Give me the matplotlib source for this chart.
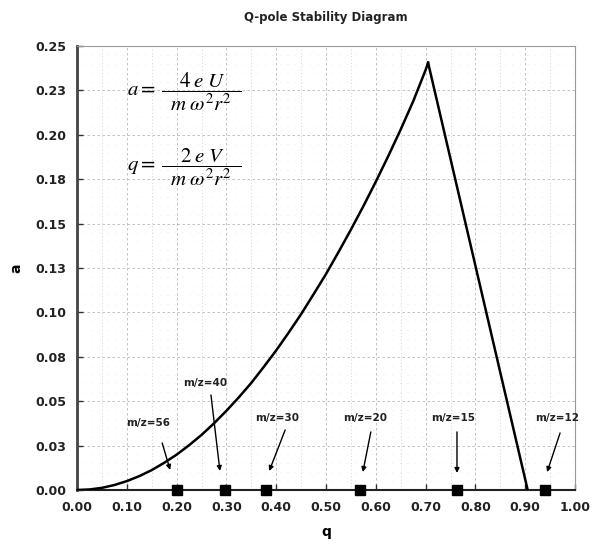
import matplotlib
matplotlib.use("Agg")
import matplotlib.pyplot as plt
import numpy as np

# Stability boundary
q_left = [0.000, 0.025, 0.050, 0.075, 0.100, 0.125, 0.150, 0.175, 0.200, 0.225, 0.250, 0.275,
          0.300, 0.325, 0.350, 0.375, 0.400, 0.425, 0.450, 0.475, 0.500, 0.525, 0.550, 0.575,
          0.600, 0.625, 0.650, 0.675, 0.700, 0.705]
a_left = [0.0000, 0.0003, 0.0012, 0.0028, 0.0050, 0.0078, 0.0112, 0.0153, 0.0199, 0.0252, 0.0310, 0.0375,
          0.0446, 0.0522, 0.0603, 0.0693, 0.0786, 0.0886, 0.0990, 0.1102, 0.1216, 0.1339, 0.1466, 0.1598,
          0.1736, 0.1880, 0.2030, 0.2188, 0.2365, 0.2406]
q_right = [0.705, 0.905]
a_right = [0.2406, 0.000]

# Ion markers
mz_labels = ["m/z=56", "m/z=40", "m/z=30", "m/z=20", "m/z=15", "m/z=12"]
mz_q = [0.20, 0.297, 0.379, 0.568, 0.763, 0.940]
mz_a = [0.0, 0.0, 0.0, 0.0, 0.0, 0.0]

x_ticks = [0.0, 0.1, 0.2, 0.3, 0.4, 0.5, 0.6, 0.7, 0.8, 0.9, 1.0]
x_ticklabels = ["0.00", "0.10", "0.20", "0.30", "0.40", "0.50", "0.60", "0.70", "0.80", "0.90", "1.00"]
y_ticks = [0.0, 0.025, 0.05, 0.075, 0.1, 0.125, 0.15, 0.175, 0.2, 0.225, 0.25]
y_ticklabels = ["0.00", "0.03", "0.05", "0.08", "0.10", "0.13", "0.15", "0.18", "0.20", "0.23", "0.25"]

# layout of annotations: (text pos, arrow start, arrow tip)
ann_text = [(0.143, 0.0377), (0.257, 0.0602), (0.402, 0.0405), (0.578, 0.0405), (0.755, 0.0405), (0.964, 0.0405)]
ann_start = [(0.171, 0.0265), (0.269, 0.0535), (0.418, 0.0338), (0.590, 0.0327), (0.763, 0.0327), (0.970, 0.0321)]
ann_tip = [(0.187, 0.0113), (0.287, 0.0107), (0.386, 0.0107), (0.574, 0.0101), (0.763, 0.0096), (0.944, 0.0101)]

plt.rcParams['font.family'] = ['DejaVu Sans']
plt.rcParams['mathtext.fontset'] = 'stix'

fig = plt.figure(figsize=(5.92, 5.54), dpi=100)
ax = fig.add_axes([77/592, 1-490/554, (575-77)/592, (490-46)/554])

ax.set_xlim(0, 1.0)
ax.set_ylim(0, 0.25)

ax.set_xticks(x_ticks)
ax.set_xticklabels(x_ticklabels, fontweight='bold', fontsize=9, color='#222222')
ax.set_yticks(y_ticks)
ax.set_yticklabels(y_ticklabels, fontweight='bold', fontsize=9, color='#222222')
ax.set_xticks(np.arange(0.05, 1.0, 0.1), minor=True)
ax.set_yticks(np.arange(0.0, 0.25, 0.005), minor=True)
ax.grid(True, which='major', color='#b8b8b8', linestyle=(0, (3, 3)), linewidth=0.6)
ax.grid(True, which='minor', axis='x', color='#c8c8c8', linestyle=(0, (1, 3)), linewidth=0.6)
ax.grid(True, which='minor', axis='y', color='#e4e4e4', linestyle=(0, (1, 8)), linewidth=0.6)
ax.tick_params(which='major', direction='in', length=4, width=1, color='#333333', pad=8)
ax.tick_params(which='minor', length=0)
ax.set_axisbelow(True)

for s in ['top', 'right']:
    ax.spines[s].set_color('#999999')
    ax.spines[s].set_linewidth(0.8)
ax.spines['left'].set_color('#444444')
ax.spines['left'].set_linewidth(2.0)
ax.spines['bottom'].set_color('#222222')
ax.spines['bottom'].set_linewidth(1.5)

ax.plot(q_left, a_left, color='black', lw=1.8, zorder=3)
ax.plot(q_right, a_right, color='black', lw=1.8, zorder=3)
ax.plot(mz_q, mz_a, linestyle='none', marker='s', color='black', markersize=6.5, zorder=4, clip_on=False)

for lab, tp, st, tip in zip(mz_labels, ann_text, ann_start, ann_tip):
    ax.text(tp[0], tp[1], lab, ha='center', va='center', fontsize=7.5, fontweight='bold', color='#222222')
    ax.annotate('', xy=tip, xytext=st,
                arrowprops=dict(arrowstyle='-|>', color='black', lw=1.0, mutation_scale=7, shrinkA=0, shrinkB=0))

ax.set_title('Q-pole Stability Diagram', fontsize=8.5, fontweight='bold', pad=18, color='#222222')
ax.set_xlabel('q', fontsize=10, fontweight='bold', labelpad=8)
ax.set_ylabel('a', fontsize=10, fontweight='bold', labelpad=8)

ax.text(0.100, 0.224, r'$a =\;\dfrac{\;\;4\;e\;U\;\;}{\;\;m\;\omega^2 r^2\;\;}$', fontsize=15, ha='left', va='center')
ax.text(0.100, 0.182, r'$q =\;\dfrac{\;\;2\;e\;V\;\;}{\;\;m\;\omega^2 r^2\;\;}$', fontsize=15, ha='left', va='center')

fig.savefig('out.png', dpi=100)
